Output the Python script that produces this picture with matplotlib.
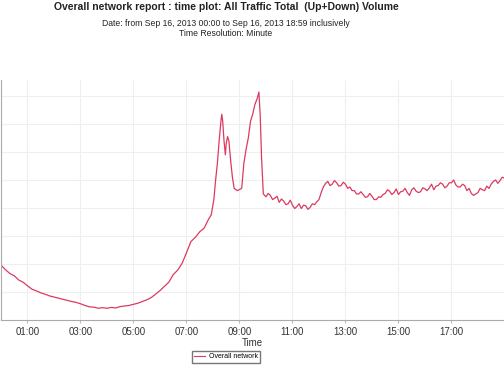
import matplotlib
matplotlib.use("Agg")
import matplotlib.pyplot as plt
from matplotlib.lines import Line2D

plt.rcParams['font.family'] = ['Liberation Sans', 'DejaVu Sans']

# minutes since 00:00
minutes = [0, 10, 20, 30, 40, 50, 60, 70, 80, 90, 100, 110, 120, 130, 140, 150,
           160, 170, 180, 190, 200, 210, 220, 230, 240, 250, 260, 270, 280, 290,
           300, 310, 320, 330, 340, 350, 360, 370, 380, 390, 400, 410, 420, 430,
           440, 450, 460, 470, 476, 482, 486, 490, 494, 498, 500, 502, 505, 508,
           510, 513, 516, 520, 524, 528, 535, 540, 545, 550, 555, 560, 565, 570,
           575, 580, 584, 587, 590, 594, 600, 605, 610, 615, 620, 625, 630, 635,
           640, 645, 650, 655, 660, 665, 670, 675, 680, 685, 690, 695, 700, 705,
           710, 715, 720, 725, 730, 735, 740, 745, 750, 755, 760, 765, 770, 775,
           780, 785, 790, 795, 800, 805, 810, 815, 820, 825, 830, 835, 840, 845,
           850, 855, 860, 865, 870, 875, 880, 885, 890, 895, 900, 905, 910, 915,
           920, 925, 930, 935, 940, 945, 950, 955, 960, 965, 970, 975, 980, 985,
           990, 995, 1000, 1005, 1010, 1015, 1020, 1025, 1030, 1035, 1040, 1045,
           1050, 1055, 1060, 1065, 1070, 1075, 1080, 1085, 1090, 1095, 1100, 1105,
           1110, 1115, 1120, 1125, 1130, 1135, 1139]
volume = [1.96, 1.80, 1.66, 1.58, 1.43, 1.35, 1.22, 1.10, 1.04, 0.97, 0.92, 0.86,
          0.82, 0.78, 0.74, 0.70, 0.66, 0.63, 0.58, 0.52, 0.47, 0.46, 0.42, 0.44,
          0.42, 0.45, 0.43, 0.48, 0.50, 0.52, 0.56, 0.60, 0.66, 0.72, 0.80, 0.92,
          1.05, 1.20, 1.35, 1.62, 1.78, 2.02, 2.40, 2.80, 2.95, 3.15, 3.28, 3.60,
          3.75, 4.30, 5.00, 5.60, 6.40, 7.10, 7.35, 7.10, 6.40, 5.90, 6.30, 6.55,
          6.40, 5.70, 5.10, 4.70, 4.62, 4.66, 4.70, 5.60, 6.10, 6.50, 7.10, 7.35,
          7.70, 7.90, 8.14, 7.30, 5.80, 4.50, 4.40, 4.52, 4.45, 4.30, 4.35, 4.42,
          4.20, 4.32, 4.25, 4.12, 4.15, 4.28, 4.10, 3.98, 4.05, 4.15, 3.98, 4.10,
          4.08, 3.95, 4.02, 4.15, 4.12, 4.22, 4.30, 4.55, 4.75, 4.88, 4.95, 4.80,
          4.85, 4.98, 4.90, 4.78, 4.80, 4.92, 4.85, 4.70, 4.75, 4.62, 4.62, 4.50,
          4.50, 4.58, 4.48, 4.38, 4.40, 4.52, 4.42, 4.30, 4.30, 4.40, 4.38, 4.48,
          4.52, 4.65, 4.60, 4.48, 4.55, 4.68, 4.48, 4.58, 4.60, 4.70, 4.55, 4.45,
          4.65, 4.72, 4.60, 4.55, 4.58, 4.72, 4.68, 4.62, 4.72, 4.85, 4.65, 4.78,
          4.80, 4.90, 4.85, 4.72, 4.78, 4.90, 4.90, 5.00, 4.82, 4.75, 4.75, 4.85,
          4.80, 4.62, 4.70, 4.52, 4.45, 4.50, 4.55, 4.70, 4.65, 4.62, 4.78, 4.70,
          4.85, 4.95, 5.00, 4.88, 4.98, 5.10, 5.07]

tick_minutes = [60, 180, 300, 420, 540, 660, 780, 900, 1020]
tick_labels = ["01:00", "03:00", "05:00", "07:00", "09:00", "11:00", "13:00",
               "15:00", "17:00"]
y_grid = [1, 2, 3, 4, 5, 6, 7, 8]

line_color = '#dc3a60'

fig = plt.figure(figsize=(5.04, 3.70), dpi=100)
ax = fig.add_axes([1 / 504, 1 - 320 / 370, 503 / 504, 240 / 370])
ax.plot(minutes, volume, color=line_color, lw=0.9)
ax.set_xlim(0, 1139)
ax.set_ylim(0, 8.57)
ax.set_xticks(tick_minutes)
ax.set_xticklabels(tick_labels, fontsize=7, color='#333333')
ax.set_yticks(y_grid)
ax.set_yticklabels([])
ax.tick_params(axis='y', length=0)
ax.tick_params(axis='x', length=2, color='#bbbbbb', pad=3)
ax.grid(True, color='#efefef', lw=0.8)
for s in ['top', 'right']:
    ax.spines[s].set_visible(False)
ax.spines['left'].set_color('#aaaaaa')
ax.spines['bottom'].set_color('#aaaaaa')
ax.set_xlabel("Time", fontsize=7, color='#333333', labelpad=1)

fig.text(226 / 504, 1 - 7 / 370, "Overall network report : time plot: All Traffic Total  (Up+Down) Volume",
         ha='center', va='center', fontsize=7.5, fontweight='bold', color='#222222')
fig.text(226 / 504, 1 - 23 / 370, "Date: from Sep 16, 2013 00:00 to Sep 16, 2013 18:59 inclusively",
         ha='center', va='center', fontsize=6.2, color='#222222')
fig.text(226 / 504, 1 - 33 / 370, "Time Resolution: Minute",
         ha='center', va='center', fontsize=6.2, color='#222222')

handle = Line2D([], [], color=line_color, lw=0.8)
fig.legend([handle], ["Overall network"], loc='center', bbox_to_anchor=(226 / 504, 1 - 357 / 370),
           fontsize=5, frameon=True, fancybox=False, edgecolor='#555555',
           handlelength=1.6, handletextpad=0.5, borderpad=0.35, borderaxespad=0)

fig.savefig("out.png", dpi=100)
